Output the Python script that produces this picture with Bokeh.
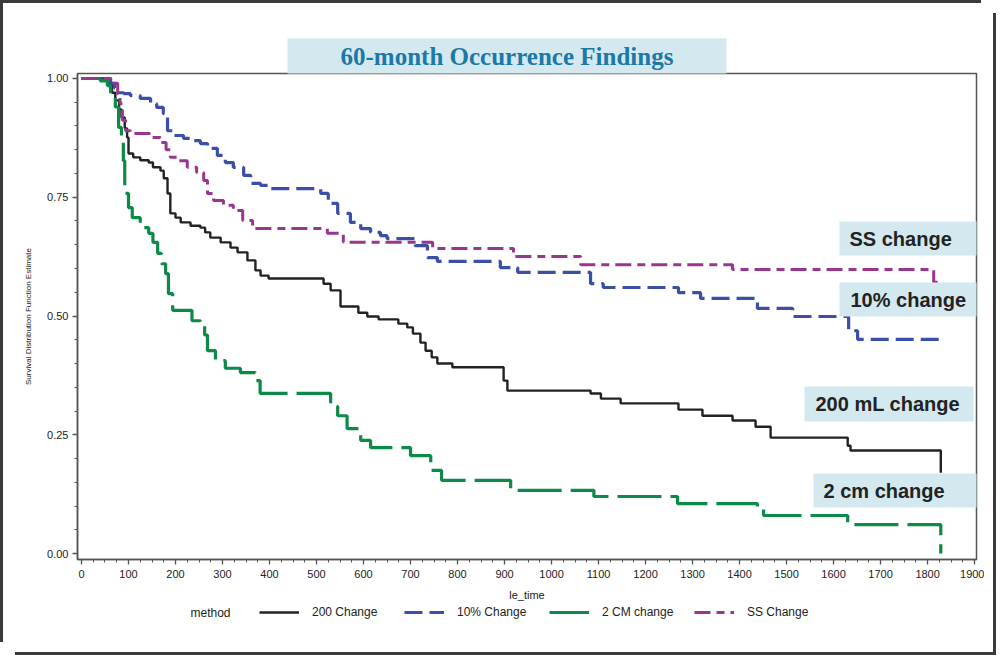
from bokeh.plotting import figure
from bokeh.layouts import column
from bokeh.models import (Range1d, FixedTicker, Legend, LegendItem, Label, Title,
                          BoxAnnotation, NumeralTickFormatter)
from bokeh.embed import file_html
from bokeh.resources import INLINE

# ---------------- data ----------------
series_names = ["200 Change", "10% Change", "2 CM change", "SS Change"]

t_200 = [0, 55, 65, 72, 80, 85, 92, 97, 100, 110, 125, 143, 152, 168, 175, 183, 189,
         200, 211, 232, 253, 263, 274, 296, 317, 332, 353, 370, 381, 398, 515, 530,
         551, 589, 608, 632, 674, 693, 705, 721, 732, 745, 757, 789, 898, 906, 1083,
         1105, 1147, 1270, 1321, 1385, 1434, 1466, 1630, 1636, 1828]
s_200 = [1.0, 0.99, 0.97, 0.954, 0.935, 0.918, 0.895, 0.876, 0.842, 0.834, 0.828, 0.823,
         0.813, 0.806, 0.79, 0.758, 0.716, 0.707, 0.697, 0.69, 0.686, 0.676, 0.665, 0.655,
         0.644, 0.634, 0.617, 0.596, 0.585, 0.579, 0.568, 0.554, 0.52, 0.507, 0.499, 0.493,
         0.484, 0.476, 0.463, 0.444, 0.427, 0.413, 0.40, 0.392, 0.364, 0.343, 0.337, 0.326,
         0.316, 0.303, 0.29, 0.28, 0.267, 0.244, 0.227, 0.217, 0.17]

t_10 = [0, 62, 70, 77, 90, 104, 125, 147, 160, 174, 183, 196, 217, 238, 253, 268, 289,
        306, 323, 345, 360, 381, 398, 509, 525, 545, 572, 594, 615, 636, 650, 710, 736,
        757, 891, 928, 1083, 1110, 1270, 1317, 1438, 1513, 1632, 1651, 1832]
s_10 = [1.0, 0.99, 0.98, 0.97, 0.968, 0.964, 0.958, 0.947, 0.939, 0.926, 0.89, 0.88,
        0.874, 0.869, 0.863, 0.853, 0.838, 0.823, 0.813, 0.796, 0.779, 0.775, 0.768,
        0.758, 0.737, 0.716, 0.697, 0.684, 0.676, 0.669, 0.663, 0.648, 0.623, 0.615,
        0.602, 0.592, 0.568, 0.56, 0.549, 0.537, 0.516, 0.499, 0.469, 0.451, 0.451]

t_2cm = [0, 40, 55, 62, 72, 79, 85, 89, 92, 100, 108, 125, 143, 152, 162, 170, 179, 185,
         194, 235, 253, 262, 268, 285, 306, 338, 370, 380, 530, 545, 565, 594, 615, 700,
         743, 766, 913, 1090, 1268, 1438, 1451, 1630, 1828]
s_2cm = [1.0, 0.995, 0.985, 0.968, 0.94, 0.897, 0.876, 0.827, 0.758, 0.728, 0.707, 0.686,
         0.674, 0.655, 0.632, 0.61, 0.589, 0.547, 0.512, 0.49, 0.48, 0.46, 0.427, 0.406,
         0.39, 0.381, 0.364, 0.337, 0.31, 0.29, 0.263, 0.238, 0.223, 0.206, 0.175, 0.154,
         0.133, 0.12, 0.105, 0.095, 0.08, 0.061, 0.0]

t_ss = [0, 66, 77, 82, 87, 94, 104, 150, 168, 180, 189, 204, 225, 245, 260, 268, 281,
        302, 323, 343, 364, 523, 557, 747, 919, 1062, 1385, 1813, 1834]
s_ss = [1.0, 0.99, 0.968, 0.947, 0.912, 0.89, 0.884, 0.876, 0.865, 0.85, 0.834, 0.827,
        0.813, 0.802, 0.785, 0.758, 0.743, 0.733, 0.722, 0.701, 0.684, 0.674, 0.655,
        0.642, 0.625, 0.608, 0.598, 0.571, 0.571]

x_major_ticks = list(range(0, 2000, 100))
x_minor_ticks = list(range(0, 1925, 25))
y_major_ticks = [0.0, 0.25, 0.50, 0.75, 1.0]
y_minor_ticks = [i / 20 for i in range(21)]

title_text = "60-month Occurrence Findings"
legend_title = "method"
box_texts = ["SS change", "10% change", "200 mL change", "2 cm change"]

# ---------------- styles ----------------
colors = ["#222222", "#3b4fa8", "#0c8a47", "#9a358f"]
widths = [2.4, 3.2, 3.2, 3.0]
dashes = ["solid", "18 7", "44 9", "16 6 8 6"]
box_fill = "#d4e9ef"

# ---------------- layout helpers (picture pixels -> data) ----------------
X0, X1 = -8.5, 1904.0
Y0, Y1 = -0.0126, 1.0105
FL, FR, FT, FB = 77, 976, 73, 559   # frame edges in picture pixels
OFF = 3                             # canvas origin inside the picture


def dx(px):
    return X0 + (px - FL) / (FR - FL) * (X1 - X0)


def dy(py):
    return Y1 - (py - FT) / (FB - FT) * (Y1 - Y0)


W = 981
P_H = 601
p = figure(width=W, height=P_H, output_backend="svg", toolbar_location=None,
           x_range=Range1d(X0, X1), y_range=Range1d(Y0, Y1),
           min_border_left=FL - OFF, min_border_right=W - (FR - OFF),
           min_border_top=FT - OFF, min_border_bottom=P_H - (FB - OFF),
           x_axis_label="le_time",
           y_axis_label="Survival Distribution Function Estimate")
p.title = Title(text=title_text, align="left", offset=287 - FL, standoff=0,
                text_font="Liberation Serif", text_font_style="bold",
                text_font_size="25px", text_color="#1c78a8",
                background_fill_color=box_fill, padding=(53, 4))
p.xgrid.visible = False
p.ygrid.visible = False
p.outline_line_color = "#555555"
p.outline_line_width = 1.5
p.background_fill_color = "white"
p.border_fill_color = "white"

p.xaxis.ticker = FixedTicker(ticks=x_major_ticks, minor_ticks=x_minor_ticks)
p.yaxis.ticker = FixedTicker(ticks=y_major_ticks, minor_ticks=y_minor_ticks)
p.yaxis.formatter = NumeralTickFormatter(format="0.00")

for ax in (p.xaxis[0], p.yaxis[0]):
    ax.axis_line_color = "#555555"
    ax.axis_line_width = 1.5
    ax.major_tick_line_color = "#555555"
    ax.major_tick_line_width = 1.3
    ax.major_tick_out = 5
    ax.major_tick_in = 0
    ax.minor_tick_line_color = "#555555"
    ax.minor_tick_out = 3
    ax.minor_tick_in = 0
    ax.major_label_text_font = "Liberation Sans"
    ax.major_label_text_font_size = "11px"
    ax.major_label_text_color = "#222222"
    ax.axis_label_text_font = "Liberation Sans"
    ax.axis_label_text_font_style = "normal"
    ax.axis_label_text_color = "#222222"

p.xaxis.major_label_standoff = 5
p.xaxis.axis_label_text_font_size = "11px"
p.xaxis.axis_label_standoff = 8
p.yaxis.major_label_standoff = 4
p.yaxis.axis_label_text_font_size = "8px"
p.yaxis.axis_label_standoff = 11

series = [(t_200, s_200), (t_10, s_10), (t_2cm, s_2cm), (t_ss, s_ss)]
for (tt, ss), c, w, d in zip(series, colors, widths, dashes):
    p.step(tt, ss, mode="after", line_color=c, line_width=w, line_dash=d)

# ---------------- right-hand annotation boxes ----------------
boxes = [  # (left, right, top, bottom, text_left) in picture pixels
    (839, 977, 221, 255, 849),
    (839, 977, 282, 316, 850),
    (804, 973, 386, 421, 815),
    (813, 977, 473, 507, 823),
]
for (l, r, t, b, tl), txt in zip(boxes, box_texts):
    p.add_layout(BoxAnnotation(left=dx(l), right=dx(r), top=dy(t), bottom=dy(b),
                               fill_color=box_fill, fill_alpha=1.0, line_color=None))
    p.add_layout(Label(x=dx(tl), y=dy((t + b) / 2), text=txt, text_align="left",
                       text_baseline="middle", text_font="Liberation Sans",
                       text_font_style="bold", text_font_size="20px",
                       text_color="#222222"))

# ---------------- legend strip (second figure below) ----------------
L_H = 642 - P_H
L_TOP = OFF + P_H          # picture y of legend strip top
q = figure(width=W, height=L_H, output_backend="svg", toolbar_location=None,
           x_range=Range1d(FL, FR), y_range=Range1d(L_TOP + L_H, L_TOP),
           x_axis_location=None, y_axis_location=None,
           min_border=0, min_border_left=0, min_border_right=0,
           min_border_top=0, min_border_bottom=0)
q.xgrid.visible = False
q.ygrid.visible = False
q.outline_line_color = None
q.background_fill_color = "white"
q.border_fill_color = "white"

# same series, drawn off-strip: only their legend samples are visible here
legend_r = [q.step(tt, ss, mode="after", line_color=c, line_width=w, line_dash=d)
            for (tt, ss), c, w, d in zip(series, colors, widths, dashes)]
LEG_Y = 612
q.add_layout(Label(x=190, y=LEG_Y, text=legend_title, text_align="left",
                   text_baseline="middle", text_font="Liberation Sans",
                   text_font_size="12px", text_color="#222222"))
LEG_H = 14
legend = Legend(items=[LegendItem(label=n, renderers=[r])
                       for n, r in zip(series_names, legend_r)],
                location=(259 - FL, L_TOP + L_H - (LEG_Y + LEG_H / 2)),
                orientation="horizontal",
                glyph_width=40, glyph_height=LEG_H, label_height=LEG_H,
                label_standoff=13, spacing=12, label_width=80,
                padding=0, margin=0, border_line_color=None,
                background_fill_alpha=0.0,
                label_text_font="Liberation Sans", label_text_font_size="12px",
                label_text_color="#222222")
q.add_layout(legend, "center")

layout = column(p, q, spacing=0)
layout.styles = {
    "margin-left": f"{OFF}px", "margin-top": f"{OFF}px",
    "box-shadow": "-3px -3px 0 0 #3a3a3a, 9px 7px 0 0 #ffffff, "
                  "12px 10px 0 0 #3a3a3a",
}

open("out.html", "w").write(file_html(layout, INLINE))
